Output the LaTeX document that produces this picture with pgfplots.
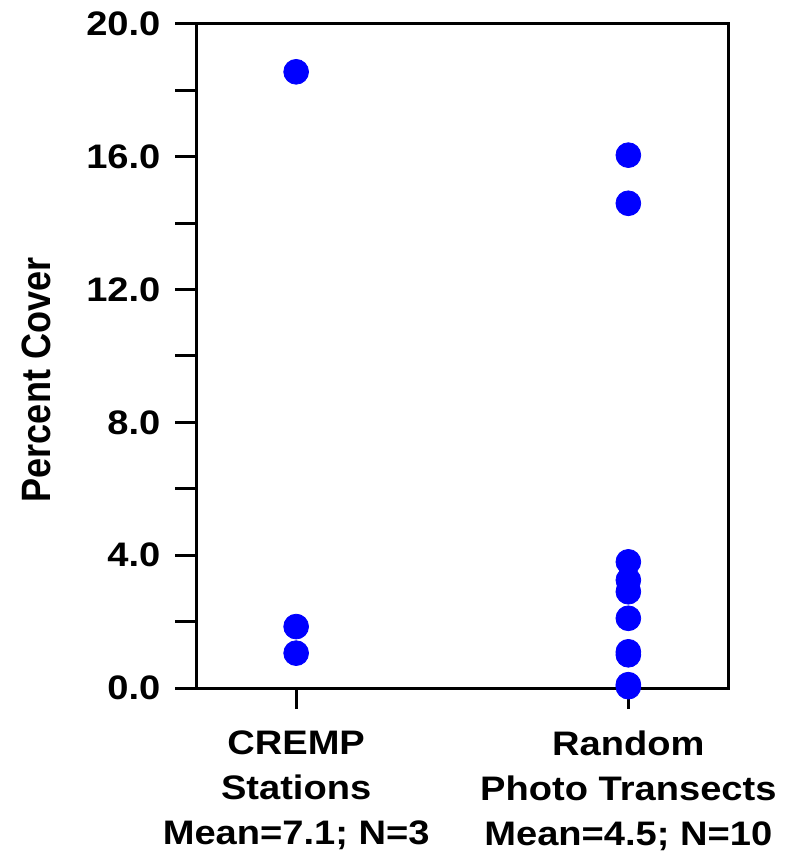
\documentclass[border=0pt]{standalone}
\usepackage{pgfplots}
\pgfplotsset{compat=1.18}
\usepackage{fontspec}
\setmainfont{Liberation Sans}
\newfontfamily\stretchfont[FakeStretch=1.12]{Liberation Sans}
\newfontfamily\condfont[FakeStretch=0.88]{Liberation Sans}
\begin{document}
\begin{tikzpicture}
\begin{axis}[
  scale only axis,
  width=265.75pt, height=332pt,
  at={(0,0)}, anchor=south west,
  xmin=0.7, xmax=2.3,
  ymin=0, ymax=20,
  axis line style={line width=1.5pt},
  every tick/.style={line width=1.5pt, black},
  tick align=outside,
  major tick length=10.5pt, minor tick length=10.5pt,
  xtick={1,2},
  xticklabels={{CREMP\\Stations\\Mean=7.1; N=3},{Random\\Photo Transects\\Mean=4.5; N=10}},
  xticklabel style={align=center, font=\stretchfont\fontsize{17}{22.5}\selectfont\bfseries, yshift=-7.5pt},
  ytick={0,4,...,20},
  minor ytick={2,6,...,18},
  xtick pos=bottom, ytick pos=left,
  yticklabel={\pgfmathprintnumber[fixed,fixed zerofill,precision=1]{\tick}},
  yticklabel style={font=\stretchfont\fontsize{17}{21}\selectfont\bfseries, xshift=-4pt},
  /pgf/number format/assume math mode=true,
  ylabel={Percent Cover},
  every axis y label/.style={at={(rel axis cs:-0.3008,0.464)}, rotate=90, anchor=center, font=\condfont\fontsize{20.5}{24}\selectfont\bfseries},
  clip=false,
]
\addplot[only marks, mark=*, mark size=6.2pt, color={rgb,255:red,0;green,0;blue,255}] coordinates {
(1,18.56) (1,1.85) (1,1.05)
};
\addplot[only marks, mark=*, mark size=6.2pt, color={rgb,255:red,0;green,0;blue,255}] coordinates {
(2,16.05) (2,14.6) (2,3.80) (2,3.25) (2,2.90) (2,2.10) (2,1.09) (2,1.0) (2,0.1) (2,0.04)
};
\end{axis}
\pgfresetboundingbox
\useasboundingbox (-98.25pt,-84pt) rectangle (304.75pt,344pt);
\end{tikzpicture}
\end{document}
